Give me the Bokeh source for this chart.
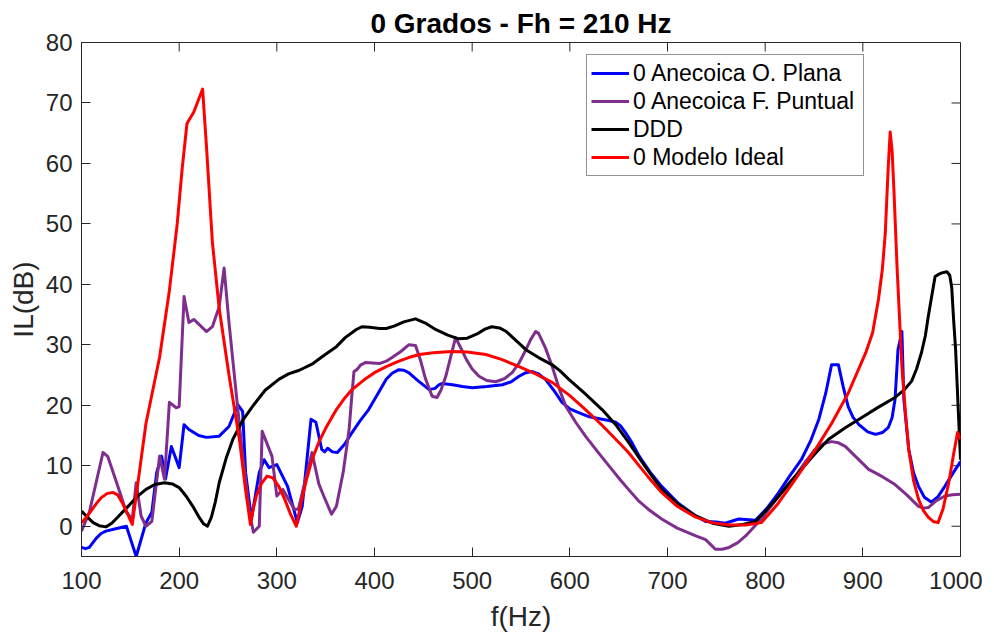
import math
from bokeh.plotting import figure
from bokeh.models import FixedTicker, Range1d, Legend, LegendItem
from bokeh.embed import file_html
from bokeh.resources import INLINE

# ---------------- data ----------------
f_plana = [100, 104, 108, 115, 120, 125, 135, 146, 150, 156, 166, 172, 177, 182, 186, 192, 200, 205, 210, 220,
           228, 241, 251, 260, 265, 268, 274, 282, 287, 292, 300, 311, 321, 326, 335, 340, 346,
           349, 352, 357, 362, 370, 377, 385, 394, 403, 412, 418, 425, 430, 435, 445, 456, 462, 466, 469,
           480, 490, 500, 515, 531, 540, 548, 555, 561, 568, 575, 584, 592, 600, 609, 620, 633, 640, 647,
           652, 657, 664, 671, 682, 694, 711, 729, 739, 750, 759, 773, 790, 802, 814, 825, 837, 847, 855,
           862, 868, 875, 880, 885, 890, 896, 905, 913, 920, 926, 930, 933, 936, 940, 942, 947, 952, 957,
           963, 970, 977, 984, 992, 1000]
il_plana = [-3.5, -3.7, -3.5, -2.0, -1.2, -0.8, -0.4, 0.0, -2.0, -5.0, 0.6, 2.3, 8.9, 11.6, 7.8, 13.2, 9.7, 16.8, 16.0, 15.0,
            14.7, 14.9, 16.5, 20.1, 19.0, 8.9, 1.2, 8.9, 11.0, 9.7, 10.2, 6.6, 0.6, 3.3, 17.7, 17.2, 12.7,
            12.3, 12.9, 12.3, 12.2, 13.7, 15.5, 17.4, 19.3, 21.8, 24.3, 25.3, 25.9, 25.8, 25.4, 24.0, 22.6, 22.8, 23.4, 23.6,
            23.4, 23.1, 22.9, 23.1, 23.4, 23.9, 24.8, 25.4, 25.6, 25.2, 24.3, 22.4, 20.5, 19.4, 18.8, 18.1, 17.7, 17.5, 17.2,
            16.6, 15.5, 13.7, 11.6, 9.0, 6.6, 3.8, 1.7, 0.8, 0.7, 0.5, 1.2, 1.0, 3.0, 5.6, 8.3, 11.0, 14.3, 17.7,
            22.0, 26.7, 26.7, 23.0, 19.8, 18.0, 16.8, 15.6, 15.2, 15.5, 16.3, 18.0, 21.0, 29.2, 32.2, 21.0, 12.7, 8.8, 6.6,
            4.8, 4.0, 4.9, 6.6, 8.7, 10.7]

f_puntual = [100, 108, 122, 127, 136, 146, 152, 156, 161, 166, 172, 180, 185, 190, 197, 200, 205, 210,
             215, 228, 234, 241, 246, 251, 258, 265, 272, 276, 282, 285, 295, 300, 306, 318, 322, 336,
             343, 348, 356, 361, 368, 374, 377, 379, 382, 386, 391, 398, 405, 412, 418, 427, 435, 442,
             447, 452, 459, 464, 468, 473, 478, 483, 488, 494, 500, 507, 515, 524, 533, 541, 548, 555,
             560, 565, 568, 575, 582, 589, 596, 606, 616, 630, 643, 652, 660, 671, 682, 694, 710, 729,
             739, 744, 749, 756, 763, 772, 780, 788, 796, 813, 831, 841, 851, 860, 868, 875, 882, 894,
             906, 920, 933, 945, 957, 962, 967, 975, 984, 992, 1000]
il_puntual = [-0.8, 2.3, 12.2, 11.5, 7.2, 2.3, 1.2, 7.2, 1.7, 0.0, 0.8, 11.6, 7.8, 20.5, 19.6, 19.8, 38.0, 33.7,
              34.2, 32.2, 33.0, 36.3, 42.7, 33.7, 22.6, 11.6, 2.3, -1.0, 0.0, 15.7, 11.6, 5.0, 6.1, 2.8, 2.8, 12.2,
              7.0, 5.0, 2.0, 3.3, 9.0, 16.0, 22.0, 25.6, 25.9, 26.7, 27.1, 27.0, 26.9, 27.3, 27.9, 28.9, 30.0, 29.9,
              27.5, 24.5, 21.5, 21.3, 22.5, 24.8, 28.0, 31.2, 29.6, 27.6, 26.0, 24.8, 24.1, 23.9, 24.4, 25.4, 27.0, 29.2,
              30.9, 32.2, 31.9, 29.5, 26.4, 22.8, 19.8, 17.2, 14.9, 12.0, 9.4, 7.6, 6.1, 4.1, 2.6, 1.2, -0.3, -1.6,
              -2.2, -3.0, -3.8, -3.8, -3.5, -2.7, -1.6, -0.2, 1.2, 4.8, 8.3, 10.6, 12.7, 13.7, 14.0, 13.8, 13.2, 11.3,
              9.4, 8.2, 6.9, 5.2, 3.3, 3.0, 3.1, 4.2, 5.0, 5.2, 5.3]

f_ddd = [100, 106, 112, 118, 125, 131, 137, 143, 149, 157, 166, 175, 185, 193, 200, 207, 214, 220, 225, 229,
         233, 237, 241, 248, 255, 265, 275, 288, 302, 312, 323, 336, 346, 354, 361, 370, 381, 387, 395, 405,
         412, 420, 430, 442, 452, 463, 475, 486, 495, 505, 513, 520, 528, 535, 545, 555, 568, 582, 590, 599,
         615, 633, 647, 660, 677, 694, 712, 729, 746, 763, 777, 790, 802, 814, 825, 837, 851, 865, 882, 899,
         916, 933, 942, 950, 955, 960, 964, 967, 971, 974, 978, 981, 986, 989, 991, 993, 995, 998, 1000]
il_ddd = [2.5, 1.5, 0.6, 0.1, -0.1, 0.5, 1.5, 2.5, 3.5, 4.9, 6.1, 6.9, 7.2, 7.0, 6.4, 5.0, 3.3, 1.6, 0.4, 0.0,
          1.5, 4.0, 7.2, 11.2, 14.4, 17.5, 19.8, 22.5, 24.3, 25.2, 25.8, 26.8, 28.0, 28.9, 29.7, 31.2, 32.5, 33.0, 32.9, 32.7,
          32.7, 33.1, 33.8, 34.3, 33.6, 32.5, 31.6, 31.0, 31.1, 31.8, 32.6, 33.0, 32.8, 32.2, 30.7, 29.2, 27.9, 26.7, 25.7, 24.3,
          22.0, 19.3, 16.8, 13.9, 9.9, 6.1, 3.5, 1.7, 0.5, 0.0, 0.3, 0.8, 2.8, 5.0, 7.2, 9.4, 12.0, 14.4, 16.3, 18.0,
          19.7, 21.3, 22.5, 24.0, 26.0, 28.7, 31.5, 34.7, 38.5, 41.3, 41.7, 41.9, 42.1, 41.5, 39.5, 34.0, 29.2, 18.2, 11.0]

f_ideal = [100, 105, 110, 115, 120, 126, 132, 137, 142, 146, 150, 152, 166, 180, 190, 198, 203, 208, 215, 224,
           228, 234, 241, 251, 262, 268, 273, 276, 279, 284, 290, 296, 302, 308, 314, 320, 325, 330, 336, 343,
           350, 361, 370, 377, 390, 400, 412, 425, 435, 446, 460, 479, 495, 514, 530, 548, 565, 582, 600, 616,
           633, 650, 660, 670, 680, 694, 710, 729, 745, 763, 780, 796, 812, 831, 850, 868, 885, 903, 910, 916,
           920, 923, 926, 928, 930, 932, 935, 938, 940, 944, 947, 952, 957, 962, 967, 972, 977, 982, 988, 993,
           997, 1000]
il_ideal = [0.6, 1.5, 2.6, 3.7, 4.7, 5.4, 5.6, 5.2, 3.8, 2.5, 1.0, 0.3, 17.0, 28.0, 39.0, 50.0, 59.0, 66.6, 68.5, 72.3,
            62.7, 47.0, 36.0, 25.0, 14.0, 6.0, 0.3, 3.0, 5.0, 7.0, 8.3, 8.0, 6.6, 4.5, 2.0, 0.0, 4.0, 7.5, 11.0, 13.9,
            16.2, 19.3, 21.3, 22.6, 24.3, 25.4, 26.4, 27.3, 27.9, 28.4, 28.7, 28.9, 28.8, 28.4, 27.6, 26.4, 25.2, 23.8, 21.6, 19.3,
            16.7, 13.9, 12.2, 10.2, 8.2, 5.6, 3.3, 1.5, 0.6, 0.2, 0.2, 0.6, 3.5, 7.8, 12.3, 17.0, 22.0, 28.7, 32.0, 37.5,
            42.5, 48.5, 59.4, 65.2, 62.0, 55.0, 43.0, 33.0, 26.4, 18.0, 12.7, 7.5, 4.5, 2.6, 1.5, 0.8, 0.6, 2.8, 7.2, 12.0,
            15.5, 14.4]

labels = ["0 Anecoica O. Plana", "0 Anecoica F. Puntual", "DDD", "0 Modelo Ideal"]
colors = ["#0000ff", "#7e2f8e", "#000000", "#ff0000"]
x_ticks = [100, 200, 300, 400, 500, 600, 700, 800, 900, 1000]
y_ticks = [0, 10, 20, 30, 40, 50, 60, 70, 80]
x_min, x_max = 100, 1000
y_min, y_max = -5, 80

FONT = "Liberation Sans"
AX = "#262626"

p = figure(frame_width=879, frame_height=514, output_backend="svg", toolbar_location=None,
           x_range=Range1d(x_min, x_max), y_range=Range1d(y_min, y_max),
           min_border_left=81, min_border_right=22, min_border_top=42, min_border_bottom=10,
           x_axis_label="f(Hz)", y_axis_label="IL(dB)", title="0 Grados - Fh = 210 Hz")

p.title.align = "center"
p.title.text_font = FONT
p.title.text_font_size = "28px"
p.title.text_font_style = "bold"
p.title.text_color = "#000000"
p.title.standoff = 8
p.grid.visible = False
p.outline_line_color = AX
p.outline_line_width = 1
p.background_fill_color = "white"
p.border_fill_color = "white"

for ax, ticks in ((p.xaxis[0], x_ticks), (p.yaxis[0], y_ticks)):
    ax.ticker = FixedTicker(ticks=ticks)
    ax.major_tick_in = 9
    ax.major_tick_out = 0
    ax.minor_tick_line_color = None
    ax.axis_line_color = AX
    ax.major_tick_line_color = AX
    ax.major_label_text_font = FONT
    ax.major_label_text_font_size = "24px"
    ax.major_label_text_color = AX
    ax.axis_label_text_font = FONT
    ax.axis_label_text_font_size = "28px"
    ax.axis_label_text_font_style = "normal"
    ax.axis_label_text_color = AX
p.xaxis[0].major_label_standoff = 15
p.xaxis[0].axis_label_standoff = 9
p.yaxis[0].major_label_standoff = 9
p.yaxis[0].axis_label_standoff = 4

# inward ticks on the top and right edges of the box
p.ray(x=x_ticks, y=[y_max] * len(x_ticks), length=9, length_units="screen",
      angle=-math.pi / 2, line_color=AX, line_width=1)
p.ray(x=[x_max] * len(y_ticks), y=y_ticks, length=9, length_units="screen",
      angle=math.pi, line_color=AX, line_width=1)

series = [(f_plana, il_plana), (f_puntual, il_puntual), (f_ddd, il_ddd), (f_ideal, il_ideal)]
items = []
for (xs, ys), lab, col in zip(series, labels, colors):
    r = p.line(xs, ys, line_color=col, line_width=3, line_join="round")
    items.append(LegendItem(label=lab, renderers=[r]))

legend = Legend(items=items, location=(505, 380))
legend.label_text_font = FONT
legend.label_text_font_size = "23px"
legend.label_text_color = "#000000"
legend.glyph_width = 38
legend.glyph_height = 28
legend.label_height = 28
legend.label_width = 226
legend.label_standoff = 4
legend.spacing = 0
legend.padding = 4
legend.margin = 0
legend.border_line_color = AX
legend.border_line_width = 1
legend.background_fill_color = "white"
legend.background_fill_alpha = 1
p.add_layout(legend, "center")

open("out.html", "w").write(file_html(p, INLINE))
